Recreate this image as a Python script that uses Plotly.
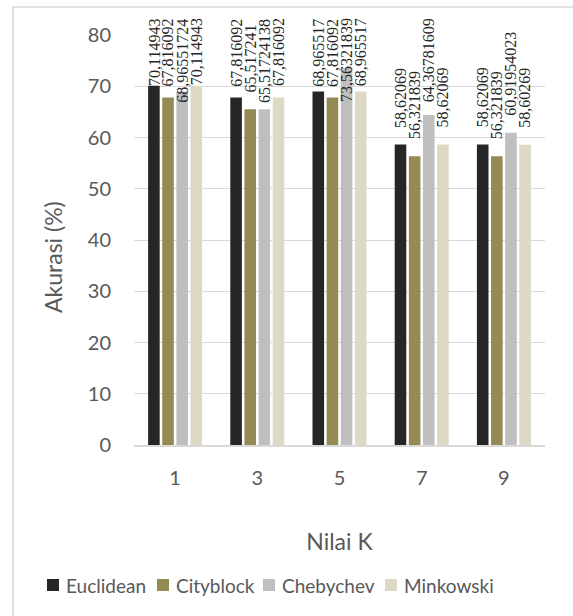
import plotly.graph_objects as go

# Accuracy (%) of KNN for each K value and distance metric
k_values = ["1", "3", "5", "7", "9"]
series_names = ["Euclidean", "Cityblock", "Chebychev", "Minkowski"]
euclidean = [70.114943, 67.816092, 68.965517, 58.62069, 58.62069]
cityblock = [67.816092, 65.517241, 67.816092, 56.321839, 56.321839]
chebychev = [68.96551724, 65.51724138, 73.56321839, 64.36781609, 60.91954023]
minkowski = [70.114943, 67.816092, 68.965517, 58.62069, 58.60269]
colors = ["#262626", "#948A54", "#BFBFBF", "#DDD9C4"]
y_ticks = [0, 10, 20, 30, 40, 50, 60, 70, 80]

series = [euclidean, cityblock, chebychev, minkowski]

W, H = 573, 616
MARGIN = dict(l=134, r=28, t=35, b=171)
PLOT_W = W - MARGIN["l"] - MARGIN["r"]
PLOT_H = H - MARGIN["t"] - MARGIN["b"]
Y_MAX = 80
PX_PER_UNIT = PLOT_H / Y_MAX

SLOT = 0.172      # distance between bar centres inside a group (category units)
BAR_W = 0.141     # bar width (category units)
LABEL_SIZE = 16   # value label font size
LABEL_GAP = 15    # px between bar top and its label
LABEL_TOP = 83.6  # highest position (data units) a label may reach

TEXT = "#595959"
SANS = "Lato"
SERIF = "Liberation Serif"

# legend layout (pixel positions in the figure)
LEGEND_Y = 585
LEGEND_BOX_X = [47, 157, 263, 385]
LEGEND_BOX = 12


def px_x(px):
    return (px - MARGIN["l"]) / PLOT_W


def px_y(py):
    return (H - MARGIN["b"] - py) / PLOT_H


def fmt(v):
    # decimal comma, as printed on the labels
    return repr(v).replace(".", ",")


def label_len_px(text):
    return sum(0.5 if ch.isdigit() else 0.25 for ch in text) * LABEL_SIZE


fig = go.Figure()
x_idx = list(range(len(k_values)))
annotations = []
shapes = []

for j, (name, vals, col) in enumerate(zip(series_names, series, colors)):
    centre = (j - 1.5) * SLOT
    fig.add_trace(go.Bar(
        x=x_idx, y=vals, name=name,
        width=BAR_W, offset=centre - BAR_W / 2,
        marker=dict(color=col, line=dict(width=0)),
        hoverinfo="y+name", showlegend=False,
    ))
    for i, v in enumerate(vals):
        txt = fmt(v)
        top = v + (LABEL_GAP + label_len_px(txt)) / PX_PER_UNIT
        ann = dict(
            x=x_idx[i] + centre, xref="x",
            text=txt, textangle=-90, showarrow=False,
            font=dict(family=SERIF, size=LABEL_SIZE, color="#262626"),
            xanchor="center",
        )
        if top > LABEL_TOP:
            # too tall to sit above the bar: pin it under the chart's top edge
            ann.update(yref="paper", y=LABEL_TOP / Y_MAX, yanchor="top")
        else:
            ann.update(yref="y", y=v, yanchor="bottom", yshift=LABEL_GAP)
        annotations.append(ann)

    # legend entry: colour square + name
    bx = LEGEND_BOX_X[j]
    shapes.append(dict(
        type="rect", xref="paper", yref="paper",
        x0=px_x(bx), x1=px_x(bx + LEGEND_BOX),
        y0=px_y(LEGEND_Y + LEGEND_BOX / 2), y1=px_y(LEGEND_Y - LEGEND_BOX / 2),
        fillcolor=col, line=dict(width=0),
    ))
    annotations.append(dict(
        text=name, showarrow=False, xref="paper", yref="paper",
        x=px_x(bx + LEGEND_BOX + 5), y=px_y(LEGEND_Y),
        xanchor="left", yanchor="middle",
        font=dict(family=SANS, size=19, color=TEXT),
    ))

# y axis title
annotations.append(dict(
    text="Akurasi (%)", textangle=-90, showarrow=False,
    xref="paper", yref="paper", x=px_x(53), y=px_y(257),
    xanchor="center", yanchor="middle",
    font=dict(family=SANS, size=23, color=TEXT),
))

# chart frame
shapes.append(dict(
    type="rect", xref="paper", yref="paper", layer="below",
    x0=px_x(13), x1=3, y0=-3, y1=px_y(7),
    line=dict(color="#D9D9D9", width=1.5),
))

fig.update_layout(
    width=W, height=H, margin=MARGIN,
    paper_bgcolor="white", plot_bgcolor="white",
    barmode="group", showlegend=False,
    font=dict(family=SANS, color=TEXT),
    annotations=annotations,
    shapes=shapes,
)

fig.update_xaxes(
    range=[-0.5, len(k_values) - 0.5],
    tickvals=x_idx, ticktext=k_values,
    showgrid=False, zeroline=False,
    showline=True, linecolor="#D9D9D9", linewidth=1.5,
    ticks="", ticklabelstandoff=14,
    tickfont=dict(family=SANS, size=20, color=TEXT),
    title=dict(text="Nilai K", font=dict(family=SANS, size=23, color=TEXT), standoff=46),
)
fig.update_yaxes(
    range=[0, Y_MAX], tickvals=y_ticks,
    showgrid=True, gridcolor="#D9D9D9", gridwidth=1,
    zeroline=False, showline=False,
    ticks="", ticklabelstandoff=22,
    tickfont=dict(family=SANS, size=20, color=TEXT),
)

fig.write_html("out.html")
